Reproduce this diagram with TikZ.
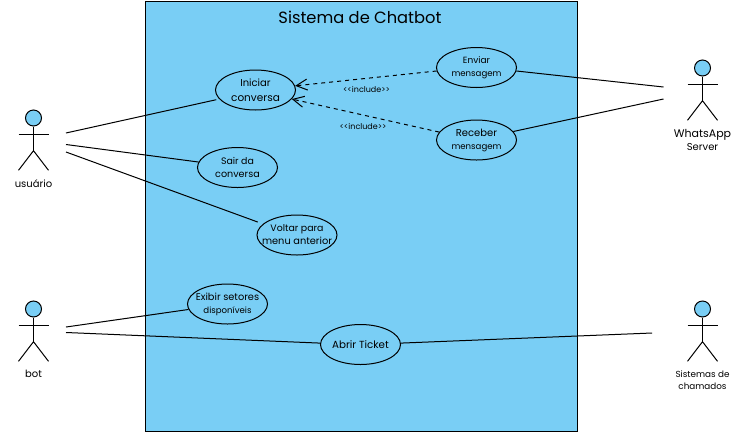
\documentclass[tikz,border=0pt]{standalone}
\usepackage{fontspec}
\setmainfont{Poppins}
\usetikzlibrary{shapes.geometric,arrows.meta}
\definecolor{sysblue}{HTML}{79CEF5}
\newcommand{\fsz}[1]{\fontsize{#1}{13}\selectfont}
\newcommand{\tln}[2]{\fontsize{#1}{13}\selectfont\makebox[0pt][c]{#2}}
\tikzset{
  usecase/.style={ellipse,draw,line width=1pt,minimum width=80pt,minimum height=40pt,inner sep=0pt,align=center,font=\fontsize{9.5}{13}\selectfont},
  link/.style={line width=1pt},
  incl/.style={line width=1pt,dash pattern=on 4pt off 4pt,-{Straight Barb[length=11pt,width=11pt,line width=1pt]}},
  incllabel/.style={font=\fontsize{8}{9}\selectfont,inner sep=0pt},
  actorlabel/.style={font=\fontsize{10}{13}\selectfont,inner sep=0pt,align=center},
  actorpart/.style={line width=1pt},
  actorhead/.style={circle,draw,fill=sysblue,line width=1pt,minimum size=16pt,inner sep=0pt}
}
\newcommand{\stickman}[3]{% name, x, head y
  \node[actorhead] (#1h) at (#2,#3) {};
  \coordinate (#1hip) at (#2,#3+32.7);
  \coordinate (#1al) at (#2-15,#3+16.2);
  \coordinate (#1ar) at (#2+15,#3+16.2);
  \coordinate (#1fl) at (#2-15,#3+52.3);
  \coordinate (#1fr) at (#2+15,#3+52.3);
  \draw[actorpart] (#1h) -- (#1hip);
  \draw[actorpart] (#1al) -- (#1ar);
  \draw[actorpart] (#1fl) -- (#1hip) -- (#1fr);
}
\begin{document}
\begin{tikzpicture}[x=1pt,y=-1pt]
\useasboundingbox (0,0) rectangle (754,432);
\node[draw,fill=sysblue,line width=1pt,minimum width=432.5pt,minimum height=430pt,inner sep=0pt,anchor=north west] (sys) at (144.5,0.5) {};
\node[font=\fontsize{16.3}{18}\selectfont,inner sep=0pt] (title) at (360,17) {Sistema de Chatbot};

\node[usecase] (iniciar) at (255.5,90) {\tln{10}{Iniciar}\\[2pt]\tln{10.5}{conversa}};
\node[usecase] (enviar) at (476.5,67.5) {\tln{9}{Enviar}\\\tln{8.6}{mensagem}};
\node[usecase] (receber) at (476.5,140) {\tln{10}{Receber}\\\tln{8.6}{mensagem}};
\node[usecase] (sair) at (237.5,167.5) {\tln{9.4}{Sair da}\\\tln{9.6}{conversa}};
\node[usecase] (voltar) at (297,235) {\tln{9.4}{Voltar para}\\\tln{9.8}{menu anterior}};
\node[usecase] (exibir) at (227.5,304) {\tln{9.8}{Exibir setores}\\\tln{8.6}{disponíveis}};
\node[usecase] (abrir) at (360.5,344.5) {\tln{10.3}{Abrir Ticket}};

\stickman{u}{33.5}{118}
\stickman{b}{33.5}{309}
\stickman{w}{702.5}{68}
\stickman{s}{702.5}{309}

\node[actorlabel] (ul) at (33.5,184) {usuário};
\node[actorlabel] (bl) at (33.5,374) {bot};
\node[actorlabel] (wl) at (702.5,140) {\fsz{11}WhatsApp\\\fsz{10}Server};
\node[actorlabel,font=\fontsize{8.8}{12}\selectfont] (sl) at (702.5,380) {Sistemas de\\chamados};

\coordinate (u1) at (66,133);
\coordinate (u2) at (66,144.5);
\coordinate (u3) at (66,152);
\coordinate (w1) at (663.5,87);
\coordinate (w2) at (663.5,99);
\coordinate (b1) at (66,327);
\coordinate (b2) at (66,332.5);
\coordinate (s1) at (652,333);

\draw[link,shorten >=3pt] (u1) -- (iniciar.194);
\draw[link] (u2) -- (sair.172);
\draw[link,shorten >=5.5pt] (u3) -- (voltar.162);
\draw[link] (enviar.-5) -- (w1);
\draw[link] (receber.13) -- (w2);
\draw[link] (b1) -- (exibir.188);
\draw[link] (b2) -- (abrir.178);
\draw[link] (abrir.2) -- (s1);

\draw[incl] (enviar.185) -- (iniciar.6);
\draw[incl] (receber.168) -- (iniciar.-14);
\node[incllabel] (l1) at (366.5,89) {<{}<include>{}>};
\node[incllabel] (l2) at (363,126) {<{}<include>{}>};
\end{tikzpicture}
\end{document}
